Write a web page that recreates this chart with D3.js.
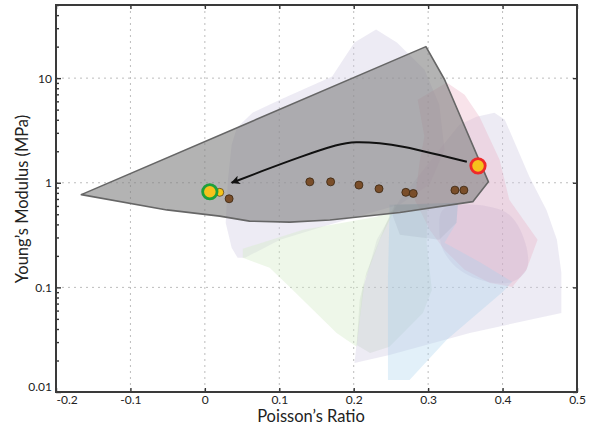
<!DOCTYPE html>
<html>
<head>
<meta charset="utf-8">
<script src="https://cdn.jsdelivr.net/npm/d3@7"></script>
<style>
    body { margin: 0; background: #fff; }
    text { font-family: "Lato", "Noto Sans", sans-serif; fill: #222; }
</style>
</head>
<body>
<svg id="chart" width="592" height="428"></svg>
<script>
// axis ticks
const xTicks = [-0.2, -0.1, 0, 0.1, 0.2, 0.3, 0.4, 0.5];
const yTicks = [0.01, 0.1, 1, 10];
const yMinorTicks = [0.02, 0.03, 0.04, 0.05, 0.06, 0.07, 0.08, 0.09,
    0.2, 0.3, 0.4, 0.5, 0.6, 0.7, 0.8, 0.9, 2, 3, 4, 5, 6, 7, 8, 9, 20, 30, 40, 50];

// background material regions [poisson, modulus]
const lavenderTop = [[0.043, 3.36], [0.064, 4.68], [0.101, 6.23], [0.171, 10.34], [0.201, 21.9], [0.230, 29.1],
    [0.258, 21.9], [0.295, 12.06], [0.315, 5.58], [0.322, 2.07], [0.302, 0.96], [0.262, 0.62], [0.168, 0.40],
    [0.101, 0.285], [0.054, 0.192], [0.044, 0.192], [0.036, 0.239], [0.028, 0.414], [0.031, 1.07], [0.036, 2.31]];
const lavenderRight = [[0.365, 4.28], [0.389, 4.68], [0.403, 4.01], [0.436, 1.14], [0.459, 0.55], [0.473, 0.285],
    [0.479, 0.138], [0.479, 0.057], [0.356, 0.0367], [0.248, 0.0226], [0.201, 0.0189], [0.204, 0.0294],
    [0.212, 0.0946], [0.231, 0.285], [0.262, 0.688], [0.315, 2.07], [0.342, 3.59]];
const pinkRegion = [[0.286, 6.23], [0.325, 9.06], [0.349, 6.95], [0.369, 4.28], [0.396, 1.66], [0.409, 0.688],
    [0.447, 0.285], [0.432, 0.147], [0.413, 0.101], [0.383, 0.110], [0.349, 0.147], [0.322, 0.228],
    [0.302, 0.355], [0.282, 0.688], [0.289, 1.66], [0.295, 2.76]];
const mauveRegion = [[0.320, 0.552], [0.362, 0.616], [0.409, 0.494], [0.432, 0.244], [0.432, 0.147], [0.413, 0.113],
    [0.379, 0.113], [0.342, 0.147], [0.320, 0.228], [0.315, 0.355]];
const greenRegion = [[0.051, 0.234], [0.051, 0.192], [0.087, 0.154], [0.114, 0.101], [0.177, 0.0367], [0.204, 0.0270],
    [0.208, 0.0489], [0.215, 0.118], [0.235, 0.285], [0.255, 0.552], [0.231, 0.473], [0.132, 0.355]];
const sageRegion = [[0.255, 0.616], [0.299, 0.616], [0.298, 0.267], [0.305, 0.0946], [0.293, 0.057], [0.248, 0.027],
    [0.222, 0.0236], [0.204, 0.0282], [0.208, 0.076], [0.217, 0.138], [0.231, 0.244], [0.244, 0.414]];
const blueRegion = [[0.248, 0.616], [0.340, 0.644], [0.338, 0.414], [0.322, 0.267], [0.369, 0.175], [0.413, 0.113],
    [0.400, 0.0905], [0.325, 0.0315], [0.275, 0.0130], [0.246, 0.0130], [0.246, 0.126], [0.248, 0.473]];
const slateRegion = [[0.255, 0.616], [0.340, 0.644], [0.338, 0.414], [0.315, 0.285], [0.262, 0.318], [0.252, 0.494]];

// highlighted envelope
const grayRegion = [[-0.166, 0.77], [0.297, 20.0], [0.322, 9.7], [0.381, 1.02], [0.360, 0.66], [0.262, 0.52],
    [0.168, 0.44], [0.114, 0.42], [0.060, 0.43], [0.020, 0.48], [-0.051, 0.55]];

// trajectory arrow
const arrowPath = [[0.352, 1.59], [0.302, 1.94], [0.268, 2.21], [0.235, 2.41], [0.201, 2.47], [0.181, 2.36],
    [0.128, 1.77], [0.074, 1.27], [0.036, 1.0]];

// measured samples
const samplePoisson = [0.0326, 0.141, 0.169, 0.207, 0.234, 0.270, 0.280, 0.336, 0.348];
const sampleModulus = [0.703, 1.02, 1.02, 0.95, 0.876, 0.81, 0.79, 0.85, 0.85];

const smallYellow = [0.020, 0.81];
const startPoint = [0.367, 1.45];
const endPoint = [0.0067, 0.82];

const plotLeft = 56, plotRight = 577, plotTop = 5, plotBottom = 392;

const svg = d3.select("#chart");
const x = d3.scaleLinear().domain([-0.2, 0.5]).range([plotLeft, plotRight]);
const y = d3.scaleLog().domain([0.01, 50]).range([plotBottom, plotTop]);

let defs = svg.append("defs");
defs.append("clipPath").attr("id", "plotClip")
    .append("rect").attr("x", plotLeft).attr("y", plotTop)
    .attr("width", plotRight - plotLeft).attr("height", plotBottom - plotTop);

// grid
let grid = svg.append("g").attr("stroke", "#bcbcbc").attr("stroke-width", 1).attr("stroke-dasharray", "2,4");
grid.selectAll(".vg").data(xTicks.slice(1, -1)).join("line")
    .attr("x1", d => x(d)).attr("x2", d => x(d)).attr("y1", plotTop).attr("y2", plotBottom);
grid.selectAll(".hg").data(yTicks.slice(1)).join("line")
    .attr("y1", d => y(d)).attr("y2", d => y(d)).attr("x1", plotLeft).attr("x2", plotRight);

const area = d3.line().x(d => x(d[0])).y(d => y(d[1])).curve(d3.curveLinearClosed);
const areaSmooth = d3.line().x(d => x(d[0])).y(d => y(d[1])).curve(d3.curveCatmullRomClosed.alpha(0.5));

let plot = svg.append("g").attr("clip-path", "url(#plotClip)");

function drawRegion(points, fill, opacity, smooth) {
    return plot.append("path").attr("d", (smooth ? areaSmooth : area)(points))
        .attr("fill", fill).attr("fill-opacity", opacity).attr("stroke", "none");
}

drawRegion(lavenderTop, "#d2cce4", 0.4, false);
drawRegion(lavenderRight, "#d2cce4", 0.4, false);
drawRegion(pinkRegion, "#eab0c4", 0.35, false);
drawRegion(mauveRegion, "#a890b8", 0.16, true);
drawRegion(greenRegion, "#d4ecc8", 0.4, false);
drawRegion(sageRegion, "#a8bca8", 0.2, false);
drawRegion(blueRegion, "#a8d0ee", 0.33, false);
drawRegion(slateRegion, "#8898a8", 0.16, false);

plot.append("path").attr("d", area(grayRegion))
    .attr("fill", "#808080").attr("fill-opacity", 0.6)
    .attr("stroke", "#666").attr("stroke-width", 1.6).attr("stroke-linejoin", "round");

// arrow
defs.append("marker").attr("id", "head")
    .attr("viewBox", "0 0 10 10").attr("refX", 9).attr("refY", 5)
    .attr("markerWidth", 12).attr("markerHeight", 9).attr("markerUnits", "userSpaceOnUse")
    .attr("orient", "auto")
    .append("path").attr("d", "M0,0 L10,5 L0,10 L2.5,5 Z").attr("fill", "#111");

plot.append("path")
    .attr("d", d3.line().x(d => x(d[0])).y(d => y(d[1])).curve(d3.curveBasis)(arrowPath))
    .attr("fill", "none").attr("stroke", "#111").attr("stroke-width", 2)
    .attr("marker-end", "url(#head)");

// samples
plot.append("circle").attr("cx", x(smallYellow[0])).attr("cy", y(smallYellow[1])).attr("r", 4)
    .attr("fill", "#f5c518").attr("stroke", "#5a4020").attr("stroke-width", 0.8);

plot.selectAll(".sample").data(samplePoisson).join("circle")
    .attr("cx", d => x(d)).attr("cy", (d, i) => y(sampleModulus[i])).attr("r", 4)
    .attr("fill", "#7a4e2a").attr("stroke", "#3a2610").attr("stroke-width", 0.8);

plot.append("circle").attr("cx", x(endPoint[0])).attr("cy", y(endPoint[1])).attr("r", 7.2)
    .attr("fill", "#f6c21c").attr("stroke", "#1ea03c").attr("stroke-width", 2.8);
plot.append("circle").attr("cx", x(startPoint[0])).attr("cy", y(startPoint[1])).attr("r", 7.2)
    .attr("fill", "#f6c21c").attr("stroke", "#ee2a2a").attr("stroke-width", 2.8);

// axes
const fmt = d => d === 0 ? "0" : String(d);

let xAxis = svg.append("g").attr("transform", `translate(0,${plotBottom})`)
    .call(d3.axisBottom(x).tickValues(xTicks).tickSize(-4).tickPadding(3).tickFormat(fmt));
let xTopAxis = svg.append("g").attr("transform", `translate(0,${plotTop})`)
    .call(d3.axisTop(x).tickValues(xTicks).tickSize(-4).tickFormat(""));
let yAxis = svg.append("g").attr("transform", `translate(${plotLeft},0)`)
    .call(d3.axisLeft(y).tickValues(yTicks).tickSize(-5).tickPadding(4).tickFormat(d => String(d)));
let yMinor = svg.append("g").attr("transform", `translate(${plotLeft},0)`)
    .call(d3.axisLeft(y).tickValues(yMinorTicks).tickSize(-3).tickFormat(""));
let yRight = svg.append("g").attr("transform", `translate(${plotRight},0)`)
    .call(d3.axisRight(y).tickValues(yTicks).tickSize(-4).tickFormat(""));

[xAxis, xTopAxis, yAxis, yMinor, yRight].forEach(a => {
    a.select(".domain").remove();
    a.selectAll(".tick line").attr("stroke", "#333").attr("stroke-width", 1.4);
    a.selectAll("text").style("font-size", "12px").attr("fill", "#222");
});
yAxis.selectAll("text").attr("dy", "0.35em");

// corner labels sit clear of each other, as in the source figure
xAxis.selectAll(".tick").filter(d => d === xTicks[0]).select("text").attr("text-anchor", "start");
yAxis.selectAll(".tick").filter(d => d === yTicks[0]).select("text").attr("dy", "-0.1em");

svg.append("rect").attr("x", plotLeft).attr("y", plotTop)
    .attr("width", plotRight - plotLeft).attr("height", plotBottom - plotTop)
    .attr("fill", "none").attr("stroke", "#3a3a3a").attr("stroke-width", 2);

svg.append("text").attr("x", 311).attr("y", 422).attr("text-anchor", "middle")
    .style("font-size", "16.5px").text("Poisson\u2019s Ratio");
svg.append("text").attr("transform", `translate(28,199) rotate(-90)`)
    .attr("text-anchor", "middle").style("font-size", "16.5px").text("Young\u2019s Modulus (MPa)");
</script>
</body>
</html>
